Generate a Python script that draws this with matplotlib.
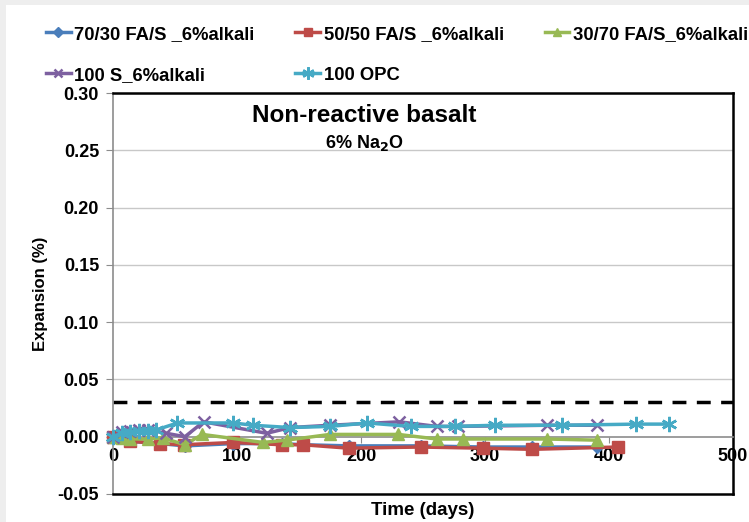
import matplotlib
matplotlib.use("Agg")
import matplotlib.pyplot as plt
from matplotlib.patches import Rectangle

plt.rcParams['font.family'] = ['Liberation Sans', 'DejaVu Sans']

# ---- data ----
labels = ["70/30 FA/S _6%alkali", "50/50 FA/S _6%alkali", "30/70 FA/S_6%alkali",
          "100 S_6%alkali", "100 OPC"]
colors = ["#4a7ebb", "#be4b48", "#98b954", "#7d60a0", "#46aac5"]
markers = ["D", "s", "^", "x", (6, 2, 0)]

days_7030 = [0, 14, 38, 58, 97, 136, 153, 190, 248, 298, 338, 390]
exp_7030 = [0, -0.004, -0.006, -0.008, -0.006, -0.006, -0.007, -0.008, -0.008, -0.009, -0.009, -0.009]

days_5050 = [0, 14, 38, 57, 97, 136, 153, 190, 248, 298, 338, 407]
exp_5050 = [0, -0.004, -0.006, -0.007, -0.005, -0.007, -0.007, -0.010, -0.009, -0.010, -0.011, -0.009]

days_3070 = [0, 7, 14, 28, 40, 58, 72, 121, 140, 175, 230, 261, 282, 350, 390]
exp_3070 = [0, -0.001, -0.002, -0.002, -0.001, -0.007, 0.002, -0.005, -0.003, 0.002, 0.002,
            -0.002, -0.002, -0.002, -0.003]

days_100s = [0, 7, 14, 21, 28, 43, 58, 73, 124, 143, 175, 231, 261, 278, 350, 390]
exp_100s = [0, 0.004, 0.005, 0.006, 0.006, 0.003, 0.0, 0.013, 0.003, 0.008, 0.010, 0.013,
            0.009, 0.009, 0.010, 0.010]

days_opc = [0, 7, 14, 21, 28, 35, 52, 97, 113, 143, 175, 205, 240, 276, 308, 362, 422, 448]
exp_opc = [0, 0.003, 0.004, 0.005, 0.005, 0.006, 0.012, 0.012, 0.010, 0.008, 0.009, 0.012,
           0.009, 0.009, 0.010, 0.010, 0.011, 0.011]

limit_value = 0.03
x_ticks = [0, 100, 200, 300, 400, 500]
y_ticks = [-0.05, 0.00, 0.05, 0.10, 0.15, 0.20, 0.25, 0.30]

series = [(days_7030, exp_7030), (days_5050, exp_5050), (days_3070, exp_3070),
          (days_100s, exp_100s), (days_opc, exp_opc)]

# ---- figure ----
fig = plt.figure(figsize=(7.49, 5.22), dpi=100, facecolor="#eeeeee")
fig.patches.append(Rectangle((6/749, 0), 1, 1 - 5/522, transform=fig.transFigure,
                             facecolor="white", edgecolor="none", zorder=-10))
ax = fig.add_axes([113/749, 1 - 494/522, 620/749, 401/522])

# spines first (set_position resets tick settings)
ax.spines['bottom'].set_position(('data', 0))
ax.spines['bottom'].set_color("#8c8c8c")
ax.spines['bottom'].set_linewidth(1.2)
ax.spines['left'].set_color("#8c8c8c")
ax.spines['left'].set_linewidth(1.2)
for s in ("top", "right"):
    ax.spines[s].set_color("black")
    ax.spines[s].set_linewidth(1.8)

for lvl in y_ticks[2:]:
    ax.axhline(lvl, color="#c8c8c8", lw=1.0, zorder=0)

ax.axhline(limit_value, color="black", lw=2.5, dashes=(4, 3), zorder=1)

msizes = [6, 8, 8, 8, 11]
handles = []
for (d, v), c, m, lab, ms in zip(series, colors, markers, labels, msizes):
    mew = 1.8 if m in ("x", (6, 2, 0)) else 1
    h, = ax.plot(d, v, color=c, lw=2.5, marker=m, markersize=ms, markeredgewidth=mew,
                 markeredgecolor=c, label=lab, zorder=3, clip_on=False)
    handles.append(h)

ax.set_xlim(0, 500)
ax.set_ylim(-0.05, 0.30)
ax.set_xticks(x_ticks)
ax.set_yticks(y_ticks)
ax.set_yticklabels([f"{t:.2f}" for t in y_ticks], fontweight="bold", fontsize=13)
ax.set_xticklabels([str(t) for t in x_ticks], fontweight="bold", fontsize=13)

ax.plot([0, 500], [-0.05, -0.05], color="black", lw=1.8, clip_on=False, zorder=4)

ax.tick_params(axis='y', direction='out', length=5, color="#8c8c8c", pad=5)
ax.tick_params(axis='x', direction='out', length=4, color="#8c8c8c", pad=4)

ax.set_xlabel("Time (days)", fontweight="bold", fontsize=13.5, va="center")
ax.xaxis.set_label_coords(0.5, -0.04)
ax.set_ylabel("Expansion (%)", fontweight="bold", fontsize=12, labelpad=7)

ax.text(0.405, 0.945, "Non-reactive basalt", transform=ax.transAxes, ha="center",
        va="center", fontsize=17.5, fontweight="bold")
ax.text(0.405, 0.875, "6% Na$_\\mathbf{2}$O", transform=ax.transAxes, ha="center",
        va="center", fontsize=13, fontweight="bold")

order = [0, 3, 1, 4, 2]
fig.legend(handles=[handles[i] for i in order], labels=[labels[i] for i in order],
           ncol=3, loc="upper left",
           bbox_to_anchor=(29/749, 1 - 9/522), frameon=False,
           prop={"weight": "bold", "size": 13.3}, handlelength=1.35,
           handletextpad=0.2, columnspacing=2.2, labelspacing=1.3, markerscale=0.8)

fig.savefig("out.png", dpi=100, facecolor=fig.get_facecolor())
